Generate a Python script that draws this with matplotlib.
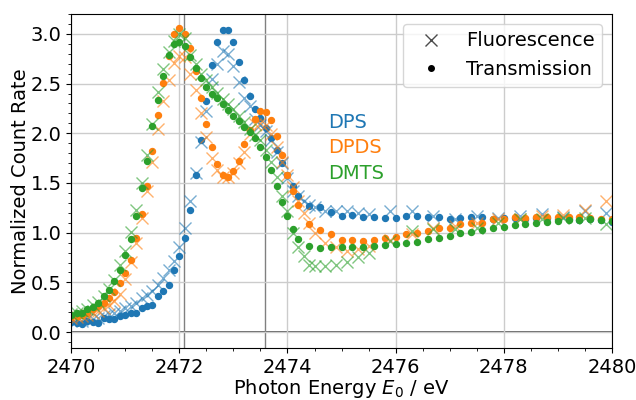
import matplotlib.pyplot as plt
from matplotlib.ticker import AutoMinorLocator
from matplotlib.lines import Line2D

# energy grids (eV)
trans_energy = [
    2470.0, 2470.1, 2470.2, 2470.3, 2470.4, 2470.5, 2470.6, 2470.7, 2470.8, 2470.9,
    2471.0, 2471.1, 2471.2, 2471.3, 2471.4, 2471.5, 2471.6, 2471.7, 2471.8, 2471.9,
    2472.0, 2472.1, 2472.2, 2472.3, 2472.4, 2472.5, 2472.6, 2472.7, 2472.8, 2472.9,
    2473.0, 2473.1, 2473.2, 2473.3, 2473.4, 2473.5, 2473.6, 2473.7, 2473.8, 2473.9,
    2474.0, 2474.1, 2474.2, 2474.4, 2474.6, 2474.8, 2475.0, 2475.2, 2475.4, 2475.6,
    2475.8, 2476.0, 2476.2, 2476.4, 2476.6, 2476.8, 2477.0, 2477.2, 2477.4, 2477.6,
    2477.8, 2478.0, 2478.2, 2478.4, 2478.6, 2478.8, 2479.0, 2479.2, 2479.4, 2479.6,
    2479.8, 2480.0,
]
fluo_energy = [
    2470.0, 2470.1, 2470.2, 2470.3, 2470.4, 2470.5, 2470.6, 2470.7, 2470.8, 2470.9,
    2471.0, 2471.1, 2471.2, 2471.3, 2471.4, 2471.5, 2471.6, 2471.7, 2471.8, 2471.9,
    2472.0, 2472.1, 2472.2, 2472.3, 2472.4, 2472.5, 2472.6, 2472.7, 2472.8, 2472.9,
    2473.0, 2473.1, 2473.2, 2473.3, 2473.4, 2473.5, 2473.6, 2473.7, 2473.8, 2473.9,
    2474.0, 2474.1, 2474.2, 2474.3, 2474.4, 2474.5, 2474.7, 2474.9, 2475.1, 2475.3,
    2475.5, 2475.9, 2476.3, 2476.7, 2477.1, 2477.5, 2477.9, 2478.3, 2478.7, 2479.1,
    2479.5, 2479.9,
]

# transmission (dots)
dps_trans = [
    0.10, 0.09, 0.08, 0.115, 0.10, 0.09, 0.145, 0.13, 0.13, 0.165,
    0.17, 0.19, 0.19, 0.245, 0.26, 0.27, 0.36, 0.41, 0.475, 0.62,
    0.77, 0.95, 1.23, 1.58, 1.93, 2.32, 2.69, 2.92, 3.04, 3.04,
    2.92, 2.72, 2.54, 2.38, 2.24, 2.15, 2.05, 1.95, 1.83, 1.70,
    1.58, 1.47, 1.37, 1.27, 1.26, 1.21, 1.17, 1.18, 1.16, 1.16,
    1.15, 1.15, 1.17, 1.17, 1.16, 1.16, 1.14, 1.15, 1.16, 1.16,
    1.14, 1.15, 1.15, 1.14, 1.15, 1.15, 1.14, 1.14, 1.13, 1.14,
    1.13, 1.11,
]
dpds_trans = [
    0.15, 0.16, 0.17, 0.195, 0.23, 0.26, 0.29, 0.34, 0.40, 0.49,
    0.59, 0.73, 0.95, 1.19, 1.47, 1.82, 2.18, 2.51, 2.78, 3.00,
    3.06, 3.00, 2.86, 2.63, 2.36, 2.09, 1.86, 1.69, 1.58, 1.56,
    1.62, 1.72, 1.89, 2.03, 2.14, 2.22, 2.21, 2.13, 1.97, 1.78,
    1.58, 1.42, 1.28, 1.09, 1.03, 0.99, 0.93, 0.93, 0.92, 0.93,
    0.95, 0.96, 0.99, 1.00, 1.02, 1.05, 1.05, 1.09, 1.10, 1.10,
    1.14, 1.14, 1.16, 1.15, 1.16, 1.16, 1.16, 1.16, 1.16, 1.15,
    1.14, 1.14,
]
dmts_trans = [
    0.17, 0.19, 0.195, 0.235, 0.25, 0.29, 0.36, 0.42, 0.51, 0.62,
    0.78, 0.94, 1.17, 1.45, 1.72, 2.07, 2.33, 2.58, 2.79, 2.90,
    2.92, 2.88, 2.77, 2.66, 2.56, 2.47, 2.40, 2.35, 2.29, 2.23,
    2.17, 2.12, 2.06, 2.01, 1.95, 1.86, 1.76, 1.63, 1.47, 1.31,
    1.17, 1.04, 0.94, 0.87, 0.85, 0.86, 0.855, 0.855, 0.86, 0.87,
    0.88, 0.89, 0.90, 0.91, 0.94, 0.95, 0.97, 1.00, 1.01, 1.03,
    1.05, 1.06, 1.08, 1.09, 1.10, 1.11, 1.12, 1.13, 1.13, 1.135,
    1.13, 1.12,
]

# fluorescence (crosses)
dps_fluo = [
    0.12, 0.12, 0.11, 0.13, 0.13, 0.14, 0.16, 0.18, 0.195, 0.21,
    0.245, 0.26, 0.29, 0.34, 0.376, 0.41, 0.475, 0.54, 0.62, 0.72,
    0.86, 1.05, 1.32, 1.60, 1.91, 2.22, 2.55, 2.70, 2.83, 2.80,
    2.68, 2.52, 2.36, 2.27, 2.14, 2.08, 2.02, 1.93, 1.81, 1.70,
    1.55, 1.42, 1.37, 1.32, 1.28, 1.26, 1.22, 1.22, 1.22, 1.20,
    1.19, 1.22, 1.22, 1.17, 1.135, 1.17, 1.15, 1.17, 1.185, 1.16,
    1.22, 1.20,
]
dpds_fluo = [
    0.14, 0.15, 0.16, 0.17, 0.19, 0.21, 0.24, 0.27, 0.31, 0.38,
    0.53, 0.71, 0.90, 1.15, 1.42, 1.71, 2.04, 2.32, 2.54, 2.71,
    2.78, 2.77, 2.60, 2.44, 2.20, 1.96, 1.75, 1.63, 1.56, 1.56,
    1.60, 1.70, 1.81, 1.99, 2.09, 2.10, 2.08, 1.99, 1.86, 1.71,
    1.58, 1.46, 1.32, 1.20, 1.10, 1.00, 0.90, 0.855, 0.82, 0.84,
    0.87, 0.93, 0.99, 1.05, 1.07, 1.10, 1.14, 1.14, 1.17, 1.18,
    1.23, 1.32,
]
dmts_fluo = [
    0.18, 0.19, 0.21, 0.23, 0.27, 0.30, 0.36, 0.43, 0.52, 0.67,
    0.82, 1.01, 1.23, 1.50, 1.78, 2.09, 2.42, 2.65, 2.82, 2.93,
    3.00, 2.96, 2.79, 2.70, 2.60, 2.54, 2.47, 2.41, 2.34, 2.29,
    2.24, 2.17, 2.11, 2.04, 1.98, 1.93, 1.83, 1.71, 1.56, 1.37,
    1.22, 1.00, 0.86, 0.77, 0.68, 0.66, 0.66, 0.67, 0.71, 0.755,
    0.80, 0.92, 1.02, 1.04, 1.04, 1.05, 1.10, 1.14, 1.14, 1.15,
    1.15, 1.09,
]

samples = ["DPS", "DPDS", "DMTS"]
colors = ["tab:blue", "tab:orange", "tab:green"]
trans_data = [dps_trans, dpds_trans, dmts_trans]
fluo_data = [dps_fluo, dpds_fluo, dmts_fluo]
edge_lines = [2472.09, 2473.58]

fig, ax = plt.subplots(figsize=(6.36, 4.0), dpi=100)
plt.subplots_adjust(left=0.112, right=0.962, top=0.965, bottom=0.13)

for name, c, t, f in zip(samples, colors, trans_data, fluo_data):
    ax.plot(fluo_energy, f, "x", color=c, markersize=8.5, markeredgewidth=1.0, alpha=0.6)
    ax.plot(trans_energy, t, "o", color=c, markersize=4.3)

ax.axhline(0, color="#444444", lw=1.2, zorder=1)
for e in edge_lines:
    ax.axvline(e, color="gray", lw=1.0, zorder=1)

ax.text(2474.75, 2.11, "DPS", color="tab:blue", fontsize=14, va="center")
ax.text(2474.75, 1.86, "DPDS", color="tab:orange", fontsize=14, va="center")
ax.text(2474.75, 1.60, "DMTS", color="tab:green", fontsize=14, va="center")

handles = [
    Line2D([], [], ls="", marker="x", color="k", markersize=8, alpha=0.7),
    Line2D([], [], ls="", marker=".", color="k", markersize=8),
]
ax.legend(handles, ["Fluorescence", "Transmission"], loc="upper right", fontsize=14)

ax.set_xlim(2470, 2480)
ax.set_ylim(-0.16, 3.2)
ax.set_xticks([2470, 2472, 2474, 2476, 2478, 2480])
ax.xaxis.set_minor_locator(AutoMinorLocator())
ax.yaxis.set_minor_locator(AutoMinorLocator())
ax.grid(True, which="major", color="#cccccc", lw=1.0)
ax.tick_params(labelsize=14)
ax.set_xlabel("Photon Energy $E_0$ / eV", fontsize=14, labelpad=0)
ax.set_ylabel("Normalized Count Rate", fontsize=14, labelpad=0)

plt.savefig("out.png")
